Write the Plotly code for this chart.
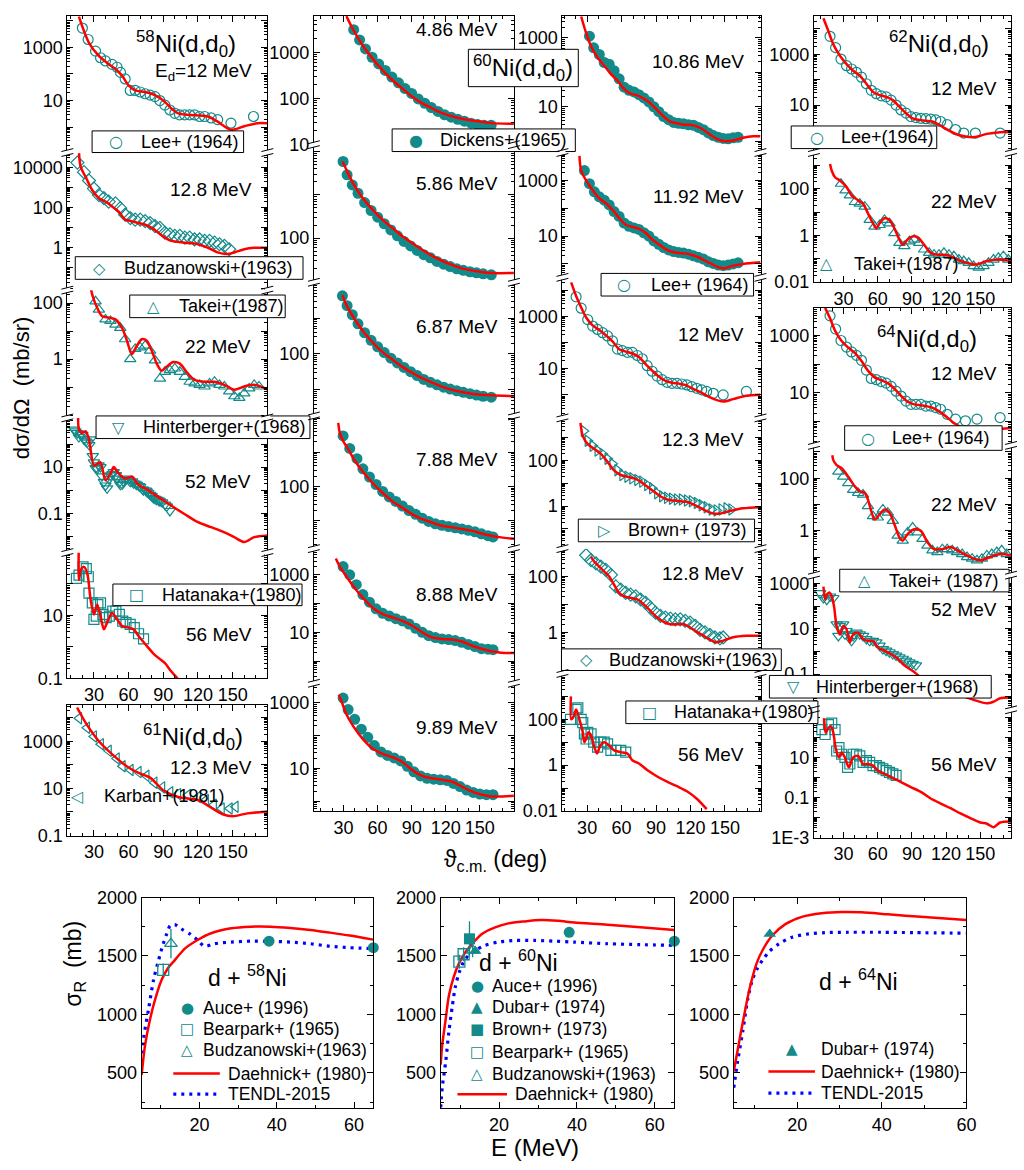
import math
import plotly.graph_objects as go

W, H = 1024, 1170
TEAL = "#138a8a"
RED = "#ff0000"
BLUE = "#0000ff"
FONT = "Liberation Sans, Arial, Helvetica, sans-serif"

# ---------------- 58Ni(d,d0) ----------------
ni58_12_th_deg = [17, 25.7, 34.3, 42.8, 48.6, 54.3, 60, 65.7, 74.3, 82.8, 91.4, 97, 102.8, 111.4, 128.5, 137, 148.5, 160, 171.4, 180]
ni58_12_th = [14500, 1500, 480, 235, 155, 87, 37, 24, 21, 16, 8.9, 5, 3.3, 2.9, 2.5, 1.6, 0.8, 1.07, 1.4, 1.4]
ni58_12_ex_deg = [20, 25, 31.4, 35.7, 40, 45.7, 50, 53, 57, 61.4, 65.7, 70, 74.3, 78.6, 82.8, 87, 91.4, 95.7, 100, 104, 108.5, 112.8, 117, 121.4, 125.7, 131.4, 137, 148.5, 168]
ni58_12_ex = [5400, 2000, 730, 410, 310, 230, 180, 115, 65, 24, 24, 21, 18, 16, 14, 10, 6.7, 4.4, 3.3, 2.9, 2.9, 2.9, 2.9, 2.5, 2.5, 2.2, 1.9, 1.4, 2.5]

ni58_128_th_deg = [17.1, 18.6, 22.9, 28.6, 34.3, 40, 45.7, 51.4, 57, 62.8, 68.5, 74.3, 80, 85.7, 91.4, 97, 108.5, 120, 131.4, 137, 145.7, 151.4, 160, 168.6, 180]
ni58_128_th = [50000, 10000, 3250, 720, 290, 195, 112, 63, 25, 21, 17, 14, 9.8, 5.6, 3.2, 2.2, 1.8, 1.5, 0.85, 0.59, 0.49, 0.59, 0.85, 1.0, 1.0]
ni58_128_ex_deg = [15.7, 21.4, 25.7, 30, 34.3, 38.6, 42.8, 48.6, 52.8, 57, 61.4, 65.7, 70, 74.3, 78.6, 82.8, 87, 91.4, 95.7, 100, 104.3, 108.6, 112.8, 117, 121.4, 125.7, 130, 134.3, 138.6, 142.8, 147]
ni58_128_ex = [17000, 5700, 2200, 870, 415, 290, 195, 160, 93, 44, 30, 25, 25, 21, 17, 12, 9.8, 5.6, 4.7, 3.9, 3.9, 3.2, 3.2, 2.6, 2.6, 2.2, 2.2, 1.8, 1.5, 1.25, 0.85]

ni58_22_th_deg = [27.1, 28.6, 32.9, 37.1, 42.8, 48.6, 54.3, 58.6, 62.8, 67.1, 71.4, 75.7, 80, 84.3, 88.6, 92.8, 98.6, 104.3, 110, 117, 125.7, 134.3, 142.8, 151.4, 160, 168.6, 180]
ni58_22_th = [390, 195, 66, 34, 30, 26, 13, 4.5, 1.5, 3, 5.1, 4.5, 2, 0.69, 0.38, 0.53, 0.78, 0.69, 0.35, 0.18, 0.155, 0.155, 0.12, 0.08, 0.105, 0.12, 0.083]
ni58_22_ex_deg = [31.4, 34.3, 40, 44.3, 48.6, 52.8, 57, 61.4, 65.7, 70, 74.3, 78.6, 82.8, 87.1, 91.4, 95.7, 100, 104.3, 108.6, 112.8, 117, 121.4, 125.7, 130, 134.3, 138.6, 142.8, 147, 151.4, 155.7, 160, 164.3, 168.6, 172.8]
ni58_22_ex = [115, 58, 26, 23, 17, 13, 5.1, 1.0, 2.3, 2.6, 3.0, 2.0, 0.9, 0.2, 0.35, 0.4, 0.46, 0.35, 0.23, 0.155, 0.135, 0.12, 0.105, 0.135, 0.155, 0.12, 0.105, 0.07, 0.047, 0.041, 0.06, 0.09, 0.12, 0.105]

ni58_52_th_deg = [16.5, 17.1, 20, 22.9, 25.7, 30, 32.9, 35.7, 40, 44.3, 47.1, 51.4, 57.1, 62.8, 68.6, 74.3, 82.8, 91.4, 100, 108.6, 120, 131.4, 142.8, 151.4, 160, 168.6, 180]
ni58_52_th = [3000, 420, 300, 355, 158, 11.7, 13.8, 16, 2.7, 5.2, 10, 5.2, 3.2, 3.8, 1.7, 1.2, 0.63, 0.33, 0.17, 0.091, 0.041, 0.025, 0.015, 0.0093, 0.0057, 0.0093, 0.011]
ni58_52_ex_deg = [12.9, 14, 15.7, 17, 18.6, 20, 21.4, 23, 24.3, 26, 27.1, 29, 30, 31.5, 32.9, 34, 35.7, 37, 38.6, 40, 41.4, 43, 44.3, 46, 47.1, 49, 50, 52, 52.9, 54.5, 55.7, 57, 58.6, 60, 61.4, 63, 64.3, 66, 67.1, 69, 70, 72, 72.9, 75, 75.7, 77, 78.6, 80, 81.4, 83, 84.3, 86, 87.1, 89, 91.4, 93, 95.7]
ni58_52_ex = [420, 350, 300, 200, 260, 250, 158, 130, 115, 90, 158, 30, 16, 9, 8.5, 12, 10, 4, 2.3, 1.6, 1.2, 3, 4.4, 5, 6.1, 4.5, 3.2, 2.2, 1.7, 1.8, 2.3, 2.8, 3.2, 2.9, 2.3, 2.4, 2.0, 1.9, 1.7, 1.5, 1.4, 1.1, 1.0, 0.95, 0.87, 0.75, 0.63, 0.55, 0.46, 0.42, 0.39, 0.36, 0.33, 0.3, 0.24, 0.2, 0.126]

ni58_56_th_deg = [16.8, 17.1, 18.6, 21.4, 24.3, 27.1, 30, 32.9, 35.7, 38.6, 41.4, 45.7, 50, 54.3, 60, 64.3, 68.6, 74.3, 82.8, 91.4, 97.1, 104.3, 110]
ni58_56_th = [1000, 134, 275, 350, 215, 32, 10.7, 22, 9.5, 3.6, 5.9, 12, 7.5, 4.6, 4.1, 3.6, 2.2, 1.23, 0.54, 0.3, 0.16, 0.08, 0.04]
ni58_56_ex_deg = [14.9, 17.1, 20.6, 23.4, 25.1, 25.7, 28.6, 30, 32, 33.4, 35.7, 37.7, 40.6, 43.4, 46.3, 49, 52, 54.9, 57.7, 61.4, 64.9, 68.6, 72.9]
ni58_56_ex = [150, 190, 350, 310, 170, 51, 25, 7.5, 9.5, 22, 25, 10.7, 8.5, 9.5, 13.7, 13.7, 10.7, 6.6, 5.9, 5.2, 4.1, 2.6, 1.78]

# ---------------- 61Ni(d,d0) 12.3 MeV ----------------
ni61_th_deg = [15.4, 24, 34.3, 47.1, 58.3, 68.6, 78.8, 90, 102.8, 120, 130.2, 141.4, 150, 162.8, 180]
ni61_th = [27000, 4900, 1000, 245, 87, 45, 28, 8.3, 4.3, 3.2, 1.66, 0.8, 0.66, 0.87, 1.05]
ni61_ex_deg = [17.1, 24, 30, 36, 42.8, 49.7, 54.8, 61.7, 68.6, 75.4, 82.3, 89, 96, 102.8, 111.4, 120, 126.8, 133.7, 140.5, 147.4, 152.5]
ni61_ex = [9500, 3700, 1600, 750, 390, 185, 87, 60, 49, 34, 17.5, 11, 6.9, 5.7, 5.2, 4.3, 3.2, 2.0, 1.4, 1.4, 1.66]

# ---------------- 60Ni(d,d0) ----------------
ni60_486_th_deg = [32.6, 38.4, 47.1, 55.8, 64.5, 73.2, 81.9, 90.6, 99.3, 108, 116.7, 125.4, 134.1, 142.8, 151.4, 160, 180]
ni60_486_th = [6100, 3160, 1390, 720, 405, 247, 163, 108, 78, 61, 48, 41, 36, 33, 31, 29, 28]
ni60_486_ex_deg = [39, 44.2, 49.4, 55.2, 61, 66.8, 72.6, 78.4, 84.2, 90, 95.8, 101.6, 107.4, 113.2, 119, 124.8, 130.6, 136.4, 142.2, 148, 153.8, 160]
ni60_486_ex = [3090, 1860, 1180, 780, 560, 405, 290, 218, 163, 128, 97, 78, 63, 52, 44, 39, 35, 32, 29, 27, 26, 26]

ni60_586_th_deg = [29.1, 32.6, 38.4, 47.1, 55.8, 64.5, 73.2, 81.9, 90.6, 99.3, 108, 116.7, 125.4, 134.1, 142.8, 151.4, 160, 180]
ni60_586_th = [5900, 3800, 1860, 830, 450, 265, 170, 110, 76, 54, 39, 30, 24, 20, 18, 16.5, 15.6, 15.6]
ni60_586_ex_deg = [29.7, 33.2, 37.8, 42.8, 48.6, 54.3, 60.1, 65.9, 71.7, 77.5, 83.3, 89.1, 94.9, 100.7, 106.5, 112.3, 118.1, 123.9, 129.7, 135.5, 141.3, 147.1, 152.9, 160.1]
ni60_586_ex = [5900, 2900, 1700, 1090, 665, 435, 305, 215, 155, 113, 84, 66, 52, 41.5, 35, 29, 25, 22, 19.5, 18, 16.7, 15.8, 15, 14.2]

ni60_687_th_deg = [29.1, 32.6, 38.4, 47.1, 55.8, 64.5, 73.2, 81.9, 90.6, 99.3, 108, 116.7, 125.4, 134.1, 142.8, 151.4, 160, 180]
ni60_687_th = [4360, 2300, 1110, 435, 208, 112, 69, 43.5, 29.5, 21, 15.9, 12.3, 10, 8.7, 7.8, 7.3, 7.0, 6.6]
ni60_687_ex_deg = [29.1, 33.2, 37.8, 42.8, 48.6, 54.3, 60.1, 65.9, 71.7, 77.5, 83.3, 89.1, 94.9, 100.7, 106.5, 112.3, 118.1, 123.9, 129.7, 135.5, 141.3, 147.1, 152.9, 160.1]
ni60_687_ex = [4200, 2220, 1240, 690, 390, 240, 158, 109, 76, 56, 42, 32, 25, 19.5, 16.2, 13.8, 11.8, 10.5, 9.4, 8.5, 7.8, 7.1, 6.6, 6.2]

ni60_788_th_deg = [25.4, 26.8, 29.7, 34.1, 39.9, 47.1, 55.8, 64.5, 73.2, 81.9, 90.6, 99.3, 108, 116.7, 125.4, 134.1, 142.8, 151.4, 160, 168.8, 180]
ni60_788_th = [7200, 3700, 2140, 1250, 575, 270, 125, 65, 37, 24, 15.5, 11.2, 8.9, 7.2, 6.5, 5.8, 5.2, 4.3, 3.7, 3.3, 3.0]
ni60_788_ex_deg = [29.7, 35.5, 41.9, 47.1, 52.9, 58.7, 64.5, 70.3, 76.1, 81.9, 87.7, 93.5, 99.3, 105, 110.9, 116.7, 122.5, 128.3, 134.1, 139.9, 145.7, 151.4, 157.2, 161.6]
ni60_788_ex = [3000, 1300, 650, 330, 190, 115, 72, 50, 37, 27, 20, 15.5, 12, 9.6, 8.2, 7.4, 6.8, 6.3, 5.8, 5.3, 4.8, 4.2, 3.7, 3.4]

ni60_888_th_deg = [23.3, 26.8, 32.6, 39.9, 47.1, 55.8, 64.5, 73.2, 81.9, 90.6, 99.3, 108, 116.7, 125.4, 134.1, 142.8, 151.4, 160, 168.8, 180]
ni60_888_th = [3700, 1930, 880, 350, 158, 72, 43, 33, 25, 17, 10, 6.7, 5.9, 5.6, 4.8, 3.5, 2.7, 2.2, 1.96, 1.9]
ni60_888_ex_deg = [29.7, 35.5, 41.3, 47.1, 52.9, 58.7, 64.5, 70.3, 76.1, 81.9, 87.7, 93.5, 99.3, 105, 110.9, 116.7, 122.5, 128.3, 134.1, 139.9, 145.7, 151.4, 157.2, 161.6]
ni60_888_ex = [1930, 1000, 455, 205, 112, 66, 46, 37, 30, 25, 19.5, 13.8, 10, 7.7, 6.6, 5.9, 5.6, 5.2, 4.5, 3.8, 3.2, 2.7, 2.6, 2.5]

ni60_989_th_deg = [25.9, 28.3, 32.6, 38.4, 47.1, 55.8, 64.5, 73.2, 81.9, 90.6, 99.3, 108, 116.7, 125.4, 134.1, 142.8, 151.4, 160, 168.8, 180]
ni60_989_th = [1780, 1120, 450, 200, 79, 40, 28, 22, 15.8, 8.9, 5.9, 5.0, 4.5, 4.0, 2.8, 2.0, 1.6, 1.4, 1.4, 1.48]
ni60_989_ex_deg = [29.7, 34.1, 39.9, 45.7, 51.4, 57.2, 63, 68.8, 74.6, 80.4, 86.2, 92, 97.8, 103.6, 109.4, 115.2, 121, 126.8, 132.6, 138.4, 144.2, 150, 155.8, 161.6]
ni60_989_ex = [1410, 630, 316, 158, 89, 50, 32, 25, 21, 17, 11.7, 7.9, 5.9, 5.0, 4.7, 4.5, 4.3, 3.5, 2.8, 2.2, 1.86, 1.66, 1.58, 1.58]

ni60_1086_th_deg = [24.8, 29.1, 33.4, 39.1, 44.9, 50.7, 56.4, 62.2, 67.9, 73.7, 79.4, 85.2, 91, 96.7, 102.5, 108.2, 114, 119.7, 125.5, 131.3, 137, 142.8, 150, 157.2, 165.8, 174.4, 181]
ni60_1086_th = [4200, 1390, 575, 270, 155, 89, 58, 33, 24, 21.5, 17.3, 12.5, 8, 5.2, 3.7, 3.3, 3.0, 3.0, 2.7, 2.15, 1.55, 1.17, 1.0, 1.05, 1.25, 1.38, 1.38]
ni60_1086_ex_deg = [32, 35.7, 40.6, 44.9, 49.2, 53.5, 57.9, 62.2, 66.5, 70.8, 75.1, 79.4, 83.8, 88.1, 92.4, 96.7, 101, 105.4, 109.7, 114, 118.3, 122.6, 126.9, 131.3, 135.6, 139.9, 144.2, 148.5, 152.8, 157.2, 161.5]
ni60_1086_ex = [1120, 515, 330, 193, 173, 112, 65, 37, 30, 27, 22.5, 18, 13.8, 10, 7.2, 5.2, 4.2, 3.5, 3.3, 3.2, 3.0, 2.9, 2.5, 2.15, 1.73, 1.45, 1.3, 1.2, 1.17, 1.25, 1.3]

ni60_1192_th_deg = [23.3, 24.8, 29.1, 34.8, 40.6, 46.3, 52.1, 57.9, 63.6, 69.4, 75.1, 80.9, 86.6, 92.4, 98.2, 103.9, 109.7, 115.4, 121.2, 126.9, 132.7, 138.5, 144.2, 150, 155.7, 165.8, 181]
ni60_1192_th = [7600, 2240, 1000, 445, 225, 151, 87, 44.5, 25.7, 21.5, 18.2, 13.2, 7.6, 5.1, 3.4, 2.75, 2.46, 2.4, 2.1, 1.74, 1.32, 1.0, 0.76, 0.7, 0.83, 1.0, 1.15]
ni60_1192_ex_deg = [27.6, 32, 36.3, 40.6, 44.9, 49.2, 53.5, 57.9, 62.2, 66.5, 70.8, 75.1, 79.4, 83.8, 88.1, 92.4, 96.7, 101, 105.4, 109.7, 114, 118.3, 122.6, 126.9, 131.3, 135.6, 139.9, 144.2, 148.5, 152.8, 157.2, 161.5]
ni60_1192_ex = [2240, 760, 390, 257, 195, 131, 76, 51, 29.5, 22.5, 19.6, 17.3, 13.2, 10, 6.7, 5.1, 3.9, 3.2, 2.8, 2.6, 2.46, 2.25, 1.96, 1.74, 1.5, 1.2, 1.05, 0.91, 0.87, 0.91, 1.0, 1.1]

ni60_12_th_deg = [16.1, 20.4, 24.8, 29.1, 34.8, 40.6, 46.3, 52.1, 57.9, 63.6, 69.4, 75.1, 80.9, 86.6, 92.4, 98.2, 103.9, 109.7, 115.4, 121.2, 129.8, 138.5, 148.5, 157.2, 168.7, 181]
ni60_12_th = [20000, 6000, 2200, 900, 450, 300, 190, 110, 55, 45, 38, 28, 15, 8.5, 5, 3.4, 2.9, 2.7, 2.4, 1.8, 1.2, 0.75, 0.56, 0.69, 0.92, 1.0]
ni60_12_ex_deg = [20.4, 24.8, 30.5, 34.8, 39.1, 43.5, 47.8, 52.1, 56.4, 60.7, 65.1, 69.4, 73.7, 78, 82.3, 86.6, 91, 95.3, 99.6, 103.9, 108.2, 112.5, 116.9, 121.2, 125.5, 129.8, 134.1, 139.9, 148.5, 168.7]
ni60_12_ex = [5600, 2050, 750, 425, 316, 237, 178, 115, 56, 49, 42, 42, 32, 24, 13, 8, 5.2, 3.8, 3.0, 2.75, 2.75, 2.6, 2.4, 2.05, 1.78, 1.55, 1.35, 1.15, 1.0, 1.35]

ni60_123_th_deg = [24.2, 26.2, 30.5, 36.3, 42, 47.8, 53.5, 59.3, 65.1, 70.8, 76.6, 82.3, 88.1, 93.8, 99.6, 105.4, 111.1, 116.9, 122.6, 128.4, 134.1, 139.9, 145.7, 154.3, 165.8, 181]
ni60_123_th = [4400, 1180, 520, 316, 193, 85, 37, 23, 19.3, 16.4, 11.8, 7.2, 4.4, 2.7, 1.94, 1.75, 1.63, 1.54, 1.18, 0.85, 0.61, 0.47, 0.47, 0.61, 0.8, 0.9]
ni60_123_ex_deg = [27.1, 30.5, 34.8, 39.1, 43.5, 47.8, 52.1, 56.4, 60.7, 65.1, 69.4, 73.7, 78, 82.3, 86.6, 91, 95.3, 99.6, 103.9, 108.2, 112.5, 116.9, 121.2, 125.5, 129.8, 134.1, 138.5, 142.8, 147.1, 151.4, 155.7]
ni60_123_ex = [1930, 720, 440, 270, 193, 118, 72, 37, 23, 19.3, 16.4, 13.9, 11.8, 8.5, 6.1, 3.7, 2.7, 2.3, 2.1, 1.94, 1.94, 1.75, 1.63, 1.38, 1.1, 0.9, 0.72, 0.65, 0.72, 0.8, 0.72]

ni60_128_th_deg = [33.4, 36.3, 40.6, 44.9, 49.2, 53.5, 57.9, 62.2, 67.9, 73.7, 79.4, 85.2, 91, 96.7, 102.5, 108.2, 114, 119.7, 125.5, 131.3, 137, 142.8, 148.5, 157.2, 168.7, 181]
ni60_128_th = [510, 340, 225, 150, 100, 51, 26, 19.6, 17.3, 15.1, 10, 5.8, 3.4, 2.4, 1.96, 1.96, 1.96, 1.5, 1.05, 0.76, 0.55, 0.44, 0.51, 0.67, 0.76, 0.76]
ni60_128_ex_deg = [29.1, 33.4, 37.7, 42, 46.3, 50.7, 55, 59.3, 63.6, 67.9, 72.3, 76.6, 80.9, 85.2, 89.5, 93.8, 98.2, 102.5, 106.8, 111.1, 115.4, 119.7, 124.1, 128.4, 132.7, 137, 141.3, 145.7, 148.5]
ni60_128_ex = [580, 385, 295, 225, 173, 115, 44.5, 34, 26, 22.5, 19.6, 15.1, 11.5, 7.6, 5.1, 3.9, 3.4, 3.1, 2.95, 2.95, 2.6, 2.25, 1.73, 1.23, 1.0, 0.81, 0.66, 0.61, 0.66]

ni60_56_th_deg = [15.9, 16.1, 18.4, 20.4, 23.3, 26.2, 27.6, 29.1, 31.1, 33.4, 36.3, 38.6, 41.5, 44.9, 49.2, 53.5, 59.3, 65.1, 69.4, 75.1, 82.3, 91, 99.6, 108.2, 116.9, 125.5, 134.1]
ni60_56_th = [1000, 100, 138, 270, 100, 27, 10, 13.8, 27, 19.4, 6.1, 3.2, 7.2, 10, 7.2, 4.4, 3.7, 3.2, 1.63, 1.18, 0.61, 0.32, 0.19, 0.12, 0.072, 0.034, 0.012]
ni60_56_ex_deg = [15.5, 20.4, 21.9, 24.8, 26.2, 27.6, 29.1, 30.5, 33.4, 35.7, 39.1, 42, 44.9, 47.8, 50.7, 55, 59.3, 63.6]
ni60_56_ex = [100, 270, 316, 100, 72, 23, 13.8, 27, 23, 10, 6.1, 10, 10, 8.5, 4.4, 4.4, 4.4, 3.7]

# ---------------- 62Ni(d,d0) ----------------
ni62_12_th_deg = [12.3, 16.7, 21, 26.8, 32.6, 38.4, 44.2, 50, 55.8, 61.6, 67.4, 73.2, 79, 84.8, 90.6, 96.4, 102.2, 108, 113.8, 121, 129.7, 138.4, 145.7, 155.8, 167.4, 177]
ni62_12_th = [26000, 8000, 2440, 870, 410, 225, 145, 69, 33, 24.5, 21, 15.6, 8.6, 4.8, 3.0, 2.6, 2.4, 2.25, 1.68, 1.07, 0.69, 0.56, 0.55, 0.73, 0.85, 0.85]
ni62_12_ex_deg = [18.1, 23, 27.7, 32.6, 37, 41.3, 45.7, 50, 54.3, 58.7, 63, 67.4, 71.7, 76.1, 80.4, 84.8, 89.1, 93.5, 97.8, 102.2, 106.5, 110.9, 115.2, 121, 128.3, 135.5, 145.7, 167.4]
ni62_12_ex = [5100, 1820, 645, 355, 263, 195, 125, 69, 38, 28, 23, 21, 15.6, 10, 6.4, 4.8, 3.5, 3.2, 3.0, 2.9, 2.8, 2.6, 2.25, 1.68, 1.08, 0.79, 0.79, 0.79]

ni62_22_th_deg = [18.1, 19.6, 22.5, 26.8, 32.6, 37, 42.8, 47.1, 51.4, 55.8, 58.7, 61.6, 65.9, 70.3, 74.6, 79, 81.9, 86.2, 90.6, 94.9, 100.7, 106.5, 112.3, 118.1, 123.9, 129.7, 138.4, 147.1, 155.8, 167.4, 177]
ni62_22_th = [1140, 590, 310, 225, 117, 52, 32, 23, 8.8, 3.3, 2.0, 3.3, 5.4, 4.6, 2.0, 0.66, 0.4, 0.66, 0.91, 0.85, 0.4, 0.18, 0.15, 0.15, 0.13, 0.093, 0.067, 0.057, 0.08, 0.093, 0.08]
ni62_22_ex_deg = [27.7, 31.7, 35.5, 39.9, 44.2, 48.6, 52.9, 57.2, 61.6, 65.9, 70.3, 74.6, 79, 83.3, 87.7, 92, 96.4, 100.7, 105.1, 109.4, 113.8, 118.1, 122.5, 126.8, 131.2, 135.5, 139.9, 144.2, 148.6, 152.9, 157.2, 161.6, 165.9, 170.3, 174.6]
ni62_22_ex = [163, 85, 52, 27, 23, 17, 4.6, 2.4, 2.8, 4.6, 3.3, 1.25, 0.48, 0.35, 0.56, 0.66, 0.48, 0.25, 0.18, 0.15, 0.15, 0.18, 0.15, 0.13, 0.093, 0.08, 0.067, 0.049, 0.042, 0.049, 0.067, 0.093, 0.11, 0.13, 0.093]

# ---------------- 64Ni(d,d0) ----------------
ni64_12_th_deg = [13.8, 18.1, 22.5, 28.3, 34.1, 39.9, 45.7, 51.4, 57.2, 63, 68.8, 74.6, 80.4, 86.2, 92, 97.8, 103.6, 109.4, 115.2, 121, 126.8, 135.5, 144.2, 155.8, 177]
ni64_12_th = [9300, 4000, 1500, 650, 380, 250, 130, 60, 35, 28, 22, 14, 8, 5, 4, 3.7, 3.4, 2.9, 2.1, 1.4, 0.9, 0.6, 0.5, 0.52, 0.6]
ni64_12_ex_deg = [18.1, 23, 27.7, 32.6, 37, 41.3, 45.7, 50, 54.3, 58.7, 63, 67.4, 71.7, 76.1, 80.4, 84.8, 89.1, 93.5, 97.8, 102.2, 106.5, 110.9, 115.2, 121, 128.3, 137, 147.1, 167.4]
ni64_12_ex = [4900, 1700, 675, 400, 270, 205, 138, 63, 32, 29, 25, 22, 17, 11.5, 7.8, 5.2, 4.0, 4.0, 4.0, 3.5, 3.5, 3.1, 2.7, 1.8, 1.22, 1.07, 1.22, 1.38]

ni64_22_th_deg = [20.1, 21, 23.9, 28.3, 34.1, 39.9, 44.2, 48.6, 51.4, 54.3, 57.2, 61.6, 65.9, 70.3, 74.6, 79, 81.9, 86.2, 92, 97.8, 103.6, 109.4, 116.7, 123.9, 132.6, 141.3, 150, 158.7, 167.4, 177]
ni64_22_th = [750, 490, 316, 240, 115, 49, 32, 27.5, 15.4, 5.6, 2.7, 4.2, 6.5, 4.9, 1.78, 0.56, 0.42, 0.75, 1.15, 1.0, 0.37, 0.2, 0.2, 0.24, 0.155, 0.1, 0.075, 0.1, 0.13, 0.115]
ni64_22_ex_deg = [25.4, 29.7, 34.1, 38.4, 42.8, 47.1, 51.4, 55.8, 60.1, 64.5, 68.8, 73.2, 77.5, 81.9, 86.2, 90.6, 94.9, 99.3, 103.6, 108, 112.3, 116.7, 121, 125.4, 129.7, 134.1, 138.4, 142.8, 147.1, 151.4, 155.8, 160.1, 164.5, 168.8, 173.2]
ni64_22_ex = [178, 115, 65, 36, 27.5, 24, 8.7, 3.6, 3.2, 6.5, 4.9, 2.4, 0.65, 0.42, 0.87, 1.33, 0.87, 0.49, 0.27, 0.18, 0.155, 0.2, 0.2, 0.18, 0.155, 0.13, 0.1, 0.087, 0.075, 0.087, 0.115, 0.13, 0.155, 0.18, 0.13]

ni64_52_th_deg = [12.3, 13.8, 15.2, 17.5, 19.6, 21.6, 23.9, 26.8, 29.7, 32.6, 35.5, 38.4, 42.8, 47.1, 51.4, 55.8, 60.1, 65.9, 71.7, 77.5, 83.3, 92, 100.7, 109.4, 121, 132.6, 144.2, 155.8, 161.6, 167.4, 177]
ni64_52_th = [720, 190, 310, 390, 263, 97, 13, 5.6, 13, 9.3, 2.5, 5.6, 6.7, 3.5, 2.9, 2.9, 1.5, 1.07, 0.76, 0.47, 0.24, 0.123, 0.053, 0.032, 0.0195, 0.0118, 0.0072, 0.0051, 0.006, 0.0085, 0.0091]
ni64_52_ex_deg = [9.4, 12.3, 15.2, 18.1, 21, 23.9, 25.4, 26.8, 29.7, 31.2, 32.6, 35.5, 37, 38.4, 41.3, 44.2, 47.1, 50, 52.9, 55.8, 58.7, 61.6, 64.5, 67.4, 70.3, 73.2, 76.1, 79, 81.9, 84.8, 87.7, 90.6, 93.5]
ni64_52_ex = [370, 225, 190, 263, 225, 15.5, 4.8, 13, 15.5, 5.6, 7.9, 5.6, 2.9, 4.8, 6.7, 5.6, 4.8, 3.5, 2.9, 2.9, 2.5, 1.78, 1.26, 1.07, 0.91, 0.76, 0.65, 0.55, 0.47, 0.39, 0.33, 0.28, 0.24]

ni64_56_th_deg = [12.9, 14.3, 16.7, 19, 21, 23, 25.9, 28.3, 31.2, 34.6, 38.4, 42.8, 47.1, 51.4, 55.8, 60.1, 65.9, 71.7, 80.4, 89.1, 97.8, 106.5, 115.2, 123.9, 132.6, 141.3, 150, 155.8, 161.6, 167.4, 177]
ni64_56_th = [930, 170, 300, 360, 170, 31, 10, 17.7, 10, 3.2, 10, 12, 4.7, 4.7, 3.9, 2.2, 1.5, 1.05, 0.59, 0.33, 0.19, 0.089, 0.05, 0.029, 0.016, 0.0093, 0.0056, 0.0049, 0.0033, 0.0056, 0.0063]
ni64_56_ex_deg = [10.9, 13.8, 16.7, 19.6, 22.5, 23.9, 25.9, 28.3, 31.2, 33.5, 35.5, 38.4, 41.3, 44.2, 47.1, 50, 52.9, 55.8, 58.7, 61.6, 64.5, 67.4, 70.3, 73.2, 76.1]
ni64_56_ex = [245, 140, 435, 525, 245, 21, 31, 14.5, 10, 3.2, 4.7, 14.5, 14.5, 12, 5.7, 6.9, 5.7, 3.9, 3.9, 3.2, 2.7, 2.2, 1.8, 1.5, 1.26]

# ---------------- reaction cross sections ----------------
d58_daehnick_E = [5, 5.9, 7.2, 8.5, 10.2, 11.9, 13.6, 16.2, 19.6, 23, 28.2, 33.3, 38.4, 43.5, 48.7, 53.8, 58.9, 65]
d58_daehnick = [480, 737, 961, 1129, 1297, 1400, 1465, 1563, 1639, 1695, 1737, 1751, 1751, 1740, 1723, 1700, 1675, 1640]
d58_tendl_E = [5, 5.5, 6.8, 8.1, 9.4, 10.6, 11.5, 12.4, 13.6, 15.3, 17.5, 19.6, 21.3, 23.9, 28.2, 33.3, 38.4, 43.5, 48.7, 53.8, 58.9, 65]
d58_tendl = [597, 793, 1045, 1297, 1465, 1605, 1689, 1759, 1768, 1731, 1689, 1633, 1583, 1605, 1619, 1627, 1625, 1619, 1605, 1583, 1571, 1563]
d58_auce_E, d58_auce, d58_auce_err = [38, 65], [1627, 1571], [22, 22]
d58_bearpark_E, d58_bearpark, d58_bearpark_err = [10.6], [1381], [55]
d58_budz_E, d58_budz, d58_budz_err = [12.6], [1605], [125]

d60_daehnick_E = [5, 5.4, 6.3, 7.1, 8.4, 9.7, 11.4, 13.1, 15.6, 19, 22.4, 26.6, 30.8, 35.1, 39.3, 47.8, 56.3, 65]
d60_daehnick = [569, 737, 961, 1157, 1325, 1437, 1535, 1605, 1689, 1745, 1779, 1796, 1807, 1801, 1787, 1768, 1745, 1723]
d60_tendl_E = [5, 5.4, 6.3, 7.1, 8, 8.8, 9.7, 10.9, 12.2, 13.9, 16.4, 19.8, 24.1, 29.2, 34.2, 39.3, 47.8, 56.3, 65]
d60_tendl = [205, 373, 597, 849, 1073, 1241, 1353, 1451, 1507, 1549, 1591, 1619, 1633, 1633, 1627, 1619, 1605, 1597, 1591]
d60_auce_E, d60_auce, d60_auce_err = [38, 65], [1703, 1627], [25, 25]
d60_dubar_E, d60_dubar = [13.9], [1543]
d60_brown_E, d60_brown, d60_brown_err = [12.4], [1647], [150]
d60_bearpark_E, d60_bearpark, d60_bearpark_err = [9.8, 10.9], [1451, 1515], [60, 60]
d60_budz_E, d60_budz, d60_budz_err = [13.2], [1549], [60]

d64_daehnick_E = [5, 6.7, 8.7, 10.4, 11.8, 14.1, 17.2, 21.1, 25.8, 30.5, 35.2, 41.4, 49.2, 60]
d64_daehnick = [513, 849, 1213, 1437, 1549, 1675, 1773, 1835, 1866, 1877, 1874, 1857, 1835, 1807]
d64_tendl_E = [5, 5.9, 7.1, 8.3, 9.4, 10.6, 11.8, 13.3, 15.7, 18.8, 22.7, 26.6, 32, 39.8, 47.6, 60]
d64_tendl = [373, 597, 849, 1129, 1297, 1395, 1465, 1535, 1605, 1661, 1689, 1700, 1703, 1703, 1700, 1695]
d64_dubar_E, d64_dubar = [13.5], [1689]

# ---------------- layout tables ----------------
COLS = {1: (68, 270, [7, 180]), 2: (317, 519, [4, 180]), 3: (568, 768, [8.5, 181]), 4: (822, 1021, [4, 177])}

PANELS = [
    dict(col=1, y0=6, y1=145, yr=[-0.96, 4.19], lab=[3, 1], tx=ni58_12_th_deg, ty=ni58_12_th, ex=ni58_12_ex_deg, ey=ni58_12_ex, sym="circle-open", role="top"),
    dict(col=1, y0=145, y1=285, yr=[-2.1, 4.73], lab=[4, 2, 0], tx=ni58_128_th_deg, ty=ni58_128_th, ex=ni58_128_ex_deg, ey=ni58_128_ex, sym="diamond-open", role="none"),
    dict(col=1, y0=285, y1=415, yr=[-2.1, 2.46], lab=[2, 0], tx=ni58_22_th_deg, ty=ni58_22_th, ex=ni58_22_ex_deg, ey=ni58_22_ex, sym="triangle-up-open", role="none"),
    dict(col=1, y0=415, y1=552, yr=[-2.7, 3.13], lab=[1, -1], tx=ni58_52_th_deg, ty=ni58_52_th, ex=ni58_52_ex_deg, ey=ni58_52_ex, sym="triangle-down-open", role="none"),
    dict(col=1, y0=552, y1=680, yr=[-1.005, 3], lab=[1, -1], tx=ni58_56_th_deg, ty=ni58_56_th, ex=ni58_56_ex_deg, ey=ni58_56_ex, sym="square-open", role="bottom"),
    dict(col=1, y0=707, y1=840, yr=[-1.005, 4.54], lab=[3, 1, -1], tx=ni61_th_deg, ty=ni61_th, ex=ni61_ex_deg, ey=ni61_ex, sym="triangle-left-open", role="both"),
    dict(col=2, y0=6, y1=137, yr=[0.995, 3.79], lab=[3, 2, 1], tx=ni60_486_th_deg, ty=ni60_486_th, ex=ni60_486_ex_deg, ey=ni60_486_ex, sym="circle", role="top"),
    dict(col=2, y0=137, y1=277, yr=[0.98, 4.16], lab=[2], tx=ni60_586_th_deg, ty=ni60_586_th, ex=ni60_586_ex_deg, ey=ni60_586_ex, sym="circle", role="none"),
    dict(col=2, y0=277, y1=413, yr=[0.27, 4.0], lab=[2], tx=ni60_687_th_deg, ty=ni60_687_th, ex=ni60_687_ex_deg, ey=ni60_687_ex, sym="circle", role="none"),
    dict(col=2, y0=413, y1=548, yr=[0.19, 4.06], lab=[2], tx=ni60_788_th_deg, ty=ni60_788_th, ex=ni60_788_ex_deg, ey=ni60_788_ex, sym="circle", role="none"),
    dict(col=2, y0=548, y1=685, yr=[-0.77, 3.91], lab=[3, 1], tx=ni60_888_th_deg, ty=ni60_888_th, ex=ni60_888_ex_deg, ey=ni60_888_ex, sym="circle", role="none"),
    dict(col=2, y0=685, y1=815, yr=[-0.3, 3.6], lab=[3, 1], tx=ni60_989_th_deg, ty=ni60_989_th, ex=ni60_989_ex_deg, ey=ni60_989_ex, sym="circle", role="bottom"),
    dict(col=3, y0=6, y1=145, yr=[-0.33, 3.64], lab=[3, 1], tx=ni60_1086_th_deg, ty=ni60_1086_th, ex=ni60_1086_ex_deg, ey=ni60_1086_ex, sym="circle", role="top"),
    dict(col=3, y0=145, y1=272, yr=[-0.48, 4.0], lab=[3, 1], tx=ni60_1192_th_deg, ty=ni60_1192_th, ex=ni60_1192_ex_deg, ey=ni60_1192_ex, sym="circle", role="none"),
    dict(col=3, y0=272, y1=415, yr=[-0.88, 4.49], lab=[3, 1], tx=ni60_12_th_deg, ty=ni60_12_th, ex=ni60_12_ex_deg, ey=ni60_12_ex, sym="circle-open", role="none"),
    dict(col=3, y0=415, y1=548, yr=[-1.86, 3.86], lab=[2, 0], tx=ni60_123_th_deg, ty=ni60_123_th, ex=ni60_123_ex_deg, ey=ni60_123_ex, sym="triangle-right-open", role="none"),
    dict(col=3, y0=548, y1=675, yr=[-1.47, 3.0], lab=[2, 0], tx=ni60_128_th_deg, ty=ni60_128_th, ex=ni60_128_ex_deg, ey=ni60_128_ex, sym="diamond-open", role="none"),
    dict(col=3, y0=675, y1=815, yr=[-2.005, 4], lab=[2, 0, -2], tx=ni60_56_th_deg, ty=ni60_56_th, ex=ni60_56_ex_deg, ey=ni60_56_ex, sym="square-open", role="bottom"),
    dict(col=4, y0=6, y1=145, yr=[-0.87, 4.51], lab=[3, 1], tx=ni62_12_th_deg, ty=ni62_12_th, ex=ni62_12_ex_deg, ey=ni62_12_ex, sym="circle-open", role="top"),
    dict(col=4, y0=145, y1=277, yr=[-2.005, 3.55], lab=[2, 0, -2], tx=ni62_22_th_deg, ty=ni62_22_th, ex=ni62_22_ex_deg, ey=ni62_22_ex, sym="triangle-up-open", role="bottom"),
    dict(col=4, y0=303, y1=443, yr=[-0.83, 3.97], lab=[3, 1], tx=ni64_12_th_deg, ty=ni64_12_th, ex=ni64_12_ex_deg, ey=ni64_12_ex, sym="circle-open", role="top"),
    dict(col=4, y0=443, y1=575, yr=[-1.69, 3.25], lab=[2, 0], tx=ni64_22_th_deg, ty=ni64_22_th, ex=ni64_22_ex_deg, ey=ni64_22_ex, sym="triangle-up-open", role="none"),
    dict(col=4, y0=575, y1=712, yr=[-2.58, 3.36], lab=[3, 1, -1], tx=ni64_52_th_deg, ty=ni64_52_th, ex=ni64_52_ex_deg, ey=ni64_52_ex, sym="triangle-down-open", role="none"),
    dict(col=4, y0=712, y1=842, yr=[-3.005, 3.38], lab=[1, -1, -3], tx=ni64_56_th_deg, ty=ni64_56_th, ex=ni64_56_ex_deg, ey=ni64_56_ex, sym="square-open", role="bottom"),
]

BREAKS = [((68, 270), [145, 285, 415, 552]), ((317, 519), [137, 277, 413, 548, 685]),
          ((568, 768), [145, 272, 415, 548, 675]), ((822, 1021), [145, 443, 575, 712])]

def xd(a, b):
    return [a / W, b / W]

def yd(a, b):
    return [1 - b / H, 1 - a / H]

def px(x):
    return x / W

def py(y):
    return 1 - y / H

def lab(k):
    if k >= 0:
        return str(10 ** k)
    return {-1: "0.1", -2: "0.01", -3: "1E-3"}[k]

TICKF = dict(family=FONT, size=18, color="black")
fig = go.Figure()
layout = {}

for i, p in enumerate(PANELS, start=1):
    xa = "x" if i == 1 else f"x{i}"
    ya = "y" if i == 1 else f"y{i}"
    c0, c1, xr = COLS[p["col"]]
    filled = not p["sym"].endswith("open")
    fig.add_trace(go.Scatter(
        x=p["ex"], y=p["ey"], mode="markers", xaxis=xa, yaxis=ya, showlegend=False,
        marker=dict(symbol=p["sym"], size=11 if filled else 10, color=TEAL,
                    line=dict(color=TEAL, width=0 if filled else 1.2))))
    fig.add_trace(go.Scatter(
        x=p["tx"], y=p["ty"], mode="lines", xaxis=xa, yaxis=ya, showlegend=False,
        line=dict(color=RED, width=2.5, shape="spline", smoothing=0.8)))
    lo, hi = p["yr"]
    ks = list(range(math.ceil(lo - 1e-9), math.floor(hi + 1e-9) + 1))
    xaxis = dict(domain=xd(c0, c1), range=xr, anchor=ya, showgrid=False, zeroline=False,
                 linecolor="black", linewidth=1, ticks="inside", ticklen=6, tickcolor="black",
                 tickvals=[30, 60, 90, 120, 150], tickfont=TICKF,
                 minor=dict(ticks="inside", ticklen=3, dtick=10, tick0=0, tickcolor="black"))
    if p["role"] == "top":
        xaxis.update(side="top", showline=True, showticklabels=False)
    elif p["role"] == "bottom":
        xaxis.update(side="bottom", showline=True, showticklabels=True)
    elif p["role"] == "both":
        xaxis.update(side="bottom", showline=True, showticklabels=True, mirror="ticks")
    else:
        xaxis.update(visible=False)
    yaxis = dict(domain=yd(p["y0"], p["y1"]), type="log", range=[lo, hi], anchor=xa,
                 showline=True, mirror="ticks", linecolor="black", linewidth=1,
                 ticks="inside", ticklen=6, tickcolor="black", showgrid=False, zeroline=False,
                 tickmode="array", tickvals=[10 ** k for k in ks],
                 ticktext=[lab(k) if k in p["lab"] else "" for k in ks], tickfont=TICKF,
                 minor=dict(ticks="inside", ticklen=3, dtick="D1", tickcolor="black"))
    layout["xaxis" if i == 1 else f"xaxis{i}"] = xaxis
    layout["yaxis" if i == 1 else f"yaxis{i}"] = yaxis

# ---------------- bottom panels ----------------
BOTTOM = [
    dict(x0=143, x1=377, xr=[5, 65],
         lines=[(d58_tendl_E, d58_tendl, BLUE, "dot"), (d58_daehnick_E, d58_daehnick, RED, "solid")],
         pts=[(d58_auce_E, d58_auce, d58_auce_err, "circle"),
              (d58_bearpark_E, d58_bearpark, d58_bearpark_err, "square-open"),
              (d58_budz_E, d58_budz, d58_budz_err, "triangle-up-open")]),
    dict(x0=445, x1=681, xr=[5, 65],
         lines=[(d60_tendl_E, d60_tendl, BLUE, "dot"), (d60_daehnick_E, d60_daehnick, RED, "solid")],
         pts=[(d60_auce_E, d60_auce, d60_auce_err, "circle"),
              (d60_bearpark_E, d60_bearpark, d60_bearpark_err, "square-open"),
              (d60_brown_E, d60_brown, d60_brown_err, "square"),
              (d60_dubar_E, d60_dubar, None, "triangle-up"),
              (d60_budz_E, d60_budz, d60_budz_err, "triangle-up-open")]),
    dict(x0=741, x1=976, xr=[5, 60],
         lines=[(d64_tendl_E, d64_tendl, BLUE, "dot"), (d64_daehnick_E, d64_daehnick, RED, "solid")],
         pts=[(d64_dubar_E, d64_dubar, None, "triangle-up")]),
]

n0 = len(PANELS)
for j, b in enumerate(BOTTOM, start=n0 + 1):
    xa, ya = f"x{j}", f"y{j}"
    for ex, ey, col, dash in b["lines"]:
        fig.add_trace(go.Scatter(x=ex, y=ey, mode="lines", xaxis=xa, yaxis=ya, showlegend=False,
                                 line=dict(color=col, width=3.2 if dash == "dot" else 2.5,
                                           dash="3px,5px" if dash == "dot" else "solid",
                                           shape="spline", smoothing=0.8)))
    for ex, ey, err, sym in b["pts"]:
        filled = not sym.endswith("open")
        fig.add_trace(go.Scatter(
            x=ex, y=ey, mode="markers", xaxis=xa, yaxis=ya, showlegend=False, cliponaxis=False,
            error_y=dict(type="data", array=err, color=TEAL, thickness=1.3, width=0) if err else None,
            marker=dict(symbol=sym, size=11, color=TEAL, line=dict(color=TEAL, width=0 if filled else 1.3))))
    layout[f"xaxis{j}"] = dict(domain=xd(b["x0"], b["x1"]), range=b["xr"], anchor=ya, showline=True,
                               mirror="ticks", linecolor="black", ticks="inside", ticklen=6, tickcolor="black",
                               tickvals=[20, 40, 60], tickfont=TICKF, showgrid=False, zeroline=False,
                               minor=dict(ticks="inside", ticklen=3, dtick=10, tick0=0, tickcolor="black"))
    layout[f"yaxis{j}"] = dict(domain=yd(903, 1117), range=[200, 2000], anchor=xa, showline=True,
                               mirror="ticks", linecolor="black", ticks="inside", ticklen=6, tickcolor="black",
                               tickvals=[500, 1000, 1500, 2000], tickfont=TICKF, showgrid=False, zeroline=False,
                               minor=dict(ticks="inside", ticklen=3, dtick=250, tick0=0, tickcolor="black"))

# ---------------- annotations & shapes ----------------
ann = []
shapes = []

def text(x, y, s, size=19, xanchor="center", angle=0):
    ann.append(dict(x=px(x), y=py(y), xref="paper", yref="paper", text=s, showarrow=False,
                    xanchor=xanchor, yanchor="middle", textangle=angle,
                    font=dict(family=FONT, size=size, color="black")))

def sym(x, y, s, size=16):
    ann.append(dict(x=px(x), y=py(y), xref="paper", yref="paper", text=s, showarrow=False,
                    xanchor="center", yanchor="middle",
                    font=dict(family="DejaVu Sans, sans-serif", size=size, color=TEAL)))

def rect(x0, x1, y0, y1):
    shapes.append(dict(type="rect", xref="paper", yref="paper", x0=px(x0), x1=px(x1), y0=py(y1), y1=py(y0),
                       fillcolor="white", line=dict(color="black", width=1), layer="above"))

LEGEND_BOXES = [
    (93, 246, 123, 145, "○", 117, "Lee+ (1964)", 140),
    (76, 306, 251, 274, "◇", 100, "Budzanowski+(1963)", 123),
    (131, 288, 290, 313, "△", 155, "Takei+(1987)", 179),
    (97, 313, 413, 436, "▽", 120, "Hinterberger+(1968)", 142),
    (114, 305, 584, 606, "□", 138, "Hatanaka+(1980)", 162),
    (396, 581, 121, 144, "●", 420, "Dickens+(1965)", 442),
    (607, 761, 268, 291, "○", 630, "Lee+ (1964)", 655),
    (584, 762, 518, 541, "▷", 610, "Brown+ (1973)", 632),
    (567, 789, 650, 672, "◇", 592, "Budzanowski+(1963)", 613),
    (632, 826, 703, 726, "□", 656, "Hatanaka+(1980)", 679),
    (799, 946, 118, 141, "○", 825, "Lee+(1964)", 847),
    (853, 1012, 423, 448, "○", 877, "Lee+ (1964)", 899),
    (848, 1019, 569, 592, "△", 873, "Takei+ (1987)", 896),
    (777, 1001, 677, 700, "▽", 801, "Hinterberger+(1968)", 822),
]
for x0, x1, y0, y1, s, sx, t, tx in LEGEND_BOXES:
    rect(x0, x1, y0, y1)
    yc = (y0 + y1) / 2
    sym(sx, yc, s)
    text(tx, yc, t, size=18, xanchor="left")

sym(78, 800, "◁")
text(103, 800, "Karban+(1981)", size=18, xanchor="left")
sym(835, 258, "△")
text(860, 258, "Takei+(1987)", size=18, xanchor="left")

# 60Ni title box
rect(473, 584, 40, 78)
text(528, 59, "<sup>60</sup>Ni(d,d<sub>0</sub>)", size=24)
text(188, 35, "<sup>58</sup>Ni(d,d<sub>0</sub>)", size=24)
text(195, 740, "<sup>61</sup>Ni(d,d<sub>0</sub>)", size=24)
text(948, 35, "<sup>62</sup>Ni(d,d<sub>0</sub>)", size=24)
text(936, 335, "<sup>64</sup>Ni(d,d<sub>0</sub>)", size=24)

ENERGY_LABELS = [
    (257, 63, "E<sub>d</sub>=12 MeV"), (256, 183, "12.8 MeV"), (255, 342, "22 MeV"), (255, 480, "52 MeV"),
    (257, 635, "56 MeV"), (257, 771, "12.3 MeV"),
    (505, 20, "4.86 MeV"), (505, 177, "5.86 MeV"), (505, 322, "6.87 MeV"), (505, 457, "7.88 MeV"),
    (505, 595, "8.88 MeV"), (505, 730, "9.89 MeV"),
    (753, 52, "10.86 MeV"), (753, 190, "11.92 MeV"), (753, 330, "12 MeV"), (753, 437, "12.3 MeV"),
    (753, 573, "12.8 MeV"), (753, 757, "56 MeV"),
    (1009, 80, "12 MeV"), (1009, 195, "22 MeV"), (1009, 370, "12 MeV"), (1009, 503, "22 MeV"),
    (1009, 610, "52 MeV"), (1009, 768, "56 MeV"),
]
for x, y, s in ENERGY_LABELS:
    text(x, y, s, size=19, xanchor="right")

# axis titles
text(22, 385, "dσ/dΩ  (mb/sr)", size=22, angle=-90)
text(500, 865, "ϑ<sub>c.m.</sub> (deg)", size=23)
text(75, 970, "σ<sub>R</sub>  (mb)", size=23, angle=-90)
text(540, 1157, "E (MeV)", size=24)

# bottom titles
text(250, 983, "d + <sup>58</sup>Ni", size=23)
text(524, 968, "d + <sup>60</sup>Ni", size=23)
text(867, 987, "d + <sup>64</sup>Ni", size=23)

# bottom legends
def line_key(x0, x1, y, col, dot):
    shapes.append(dict(type="line", xref="paper", yref="paper", x0=px(x0), x1=px(x1), y0=py(y), y1=py(y),
                       line=dict(color=col, width=3.2 if dot else 2.5, dash="3px,5px" if dot else "solid"),
                       layer="above"))

for s, y, t in [("●", 1015, "Auce+ (1996)"), ("□", 1037, "Bearpark+ (1965)"), ("△", 1058, "Budzanowski+(1963)")]:
    sym(189, y, s, size=15)
    text(203, y, t, size=17.5, xanchor="left")
line_key(175, 222, 1082, RED, False)
text(228, 1082, "Daehnick+ (1980)", size=17.5, xanchor="left")
line_key(175, 222, 1103, BLUE, True)
text(228, 1103, "TENDL-2015", size=17.5, xanchor="left")

for s, y, t in [("●", 993, "Auce+ (1996)"), ("▲", 1014, "Dubar+ (1974)"), ("■", 1037, "Brown+ (1973)"),
                ("□", 1060, "Bearpark+ (1965)"), ("△", 1082, "Budzanowski+(1963)")]:
    sym(482, y, s, size=15)
    text(495, y, t, size=17.5, xanchor="left")
line_key(462, 512, 1103, RED, False)
text(518, 1103, "Daehnick+ (1980)", size=17.5, xanchor="left")

sym(800, 1057, "▲", size=15)
text(827, 1057, "Dubar+ (1974)", size=17.5, xanchor="left")
line_key(776, 823, 1080, RED, False)
text(827, 1080, "Daehnick+ (1980)", size=17.5, xanchor="left")
line_key(776, 823, 1102, BLUE, True)
text(827, 1102, "TENDL-2015", size=17.5, xanchor="left")

# broken-axis marks
for (xl, xrr), ys in BREAKS:
    for x in (xl, xrr):
        for y in ys:
            shapes.append(dict(type="rect", xref="paper", yref="paper", x0=px(x - 3), x1=px(x + 3),
                               y0=py(y + 2.5), y1=py(y - 2.5), fillcolor="white", line=dict(width=0),
                               layer="above"))
            for d in (-2.5, 2.5):
                shapes.append(dict(type="line", xref="paper", yref="paper", x0=px(x - 6), x1=px(x + 6),
                                   y0=py(y + d + 1.5), y1=py(y + d - 1.5),
                                   line=dict(color="black", width=1), layer="above"))

fig.update_layout(width=W, height=H, margin=dict(l=0, r=0, t=0, b=0), showlegend=False,
                  paper_bgcolor="white", plot_bgcolor="rgba(0,0,0,0)",
                  annotations=ann, shapes=shapes, **layout)
fig.write_html("out.html")
